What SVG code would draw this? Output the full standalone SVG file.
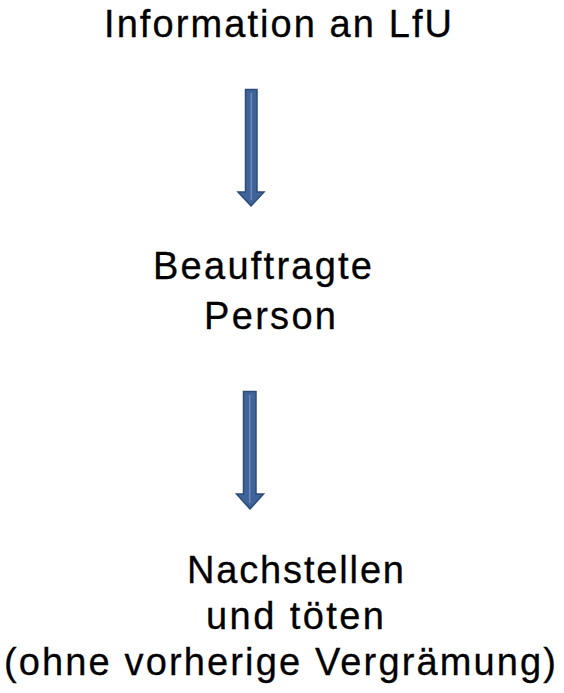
<svg xmlns="http://www.w3.org/2000/svg" width="564" height="693" viewBox="0 0 564 693">
<style>
text{font-family:"Liberation Sans",Arial,sans-serif;font-size:38px;fill:#000;stroke:#000;stroke-width:0.3}
.arrow{fill:#3F6499;stroke:#2C4B7B;stroke-width:1.5;stroke-linejoin:miter}
.hl{stroke:#7E9FCB;stroke-width:1;fill:none}
</style>
<rect width="564" height="693" fill="#fff"/>
<g id="node-information">
<text x="104" y="37" textLength="348" lengthAdjust="spacing">Information  an LfU</text>
</g>
<g id="node-beauftragte">
<text x="153" y="279" textLength="219" lengthAdjust="spacing">Beauftragte</text>
<text x="204" y="329" textLength="132" lengthAdjust="spacing">Person</text>
</g>
<g id="node-nachstellen">
<text x="187" y="583" textLength="217" lengthAdjust="spacing">Nachstellen</text>
<text x="206" y="629" textLength="178" lengthAdjust="spacing">und töten</text>
<text x="4" y="675" textLength="552" lengthAdjust="spacing">(ohne vorherige Vergrämung)</text>
</g>
<g id="connectors">
<polygon class="arrow" points="245.5,89.5 257,89.5 257,192 264,192 251,206 238,192 245.5,192"/>
<line class="hl" x1="251.2" y1="93" x2="251.2" y2="200"/>
<polygon class="arrow" points="243.5,391.5 256,391.5 256,494 263.5,494 250,509 236.5,494 243.5,494"/>
<line class="hl" x1="249.8" y1="395" x2="249.8" y2="503"/>
</g>
</svg>
